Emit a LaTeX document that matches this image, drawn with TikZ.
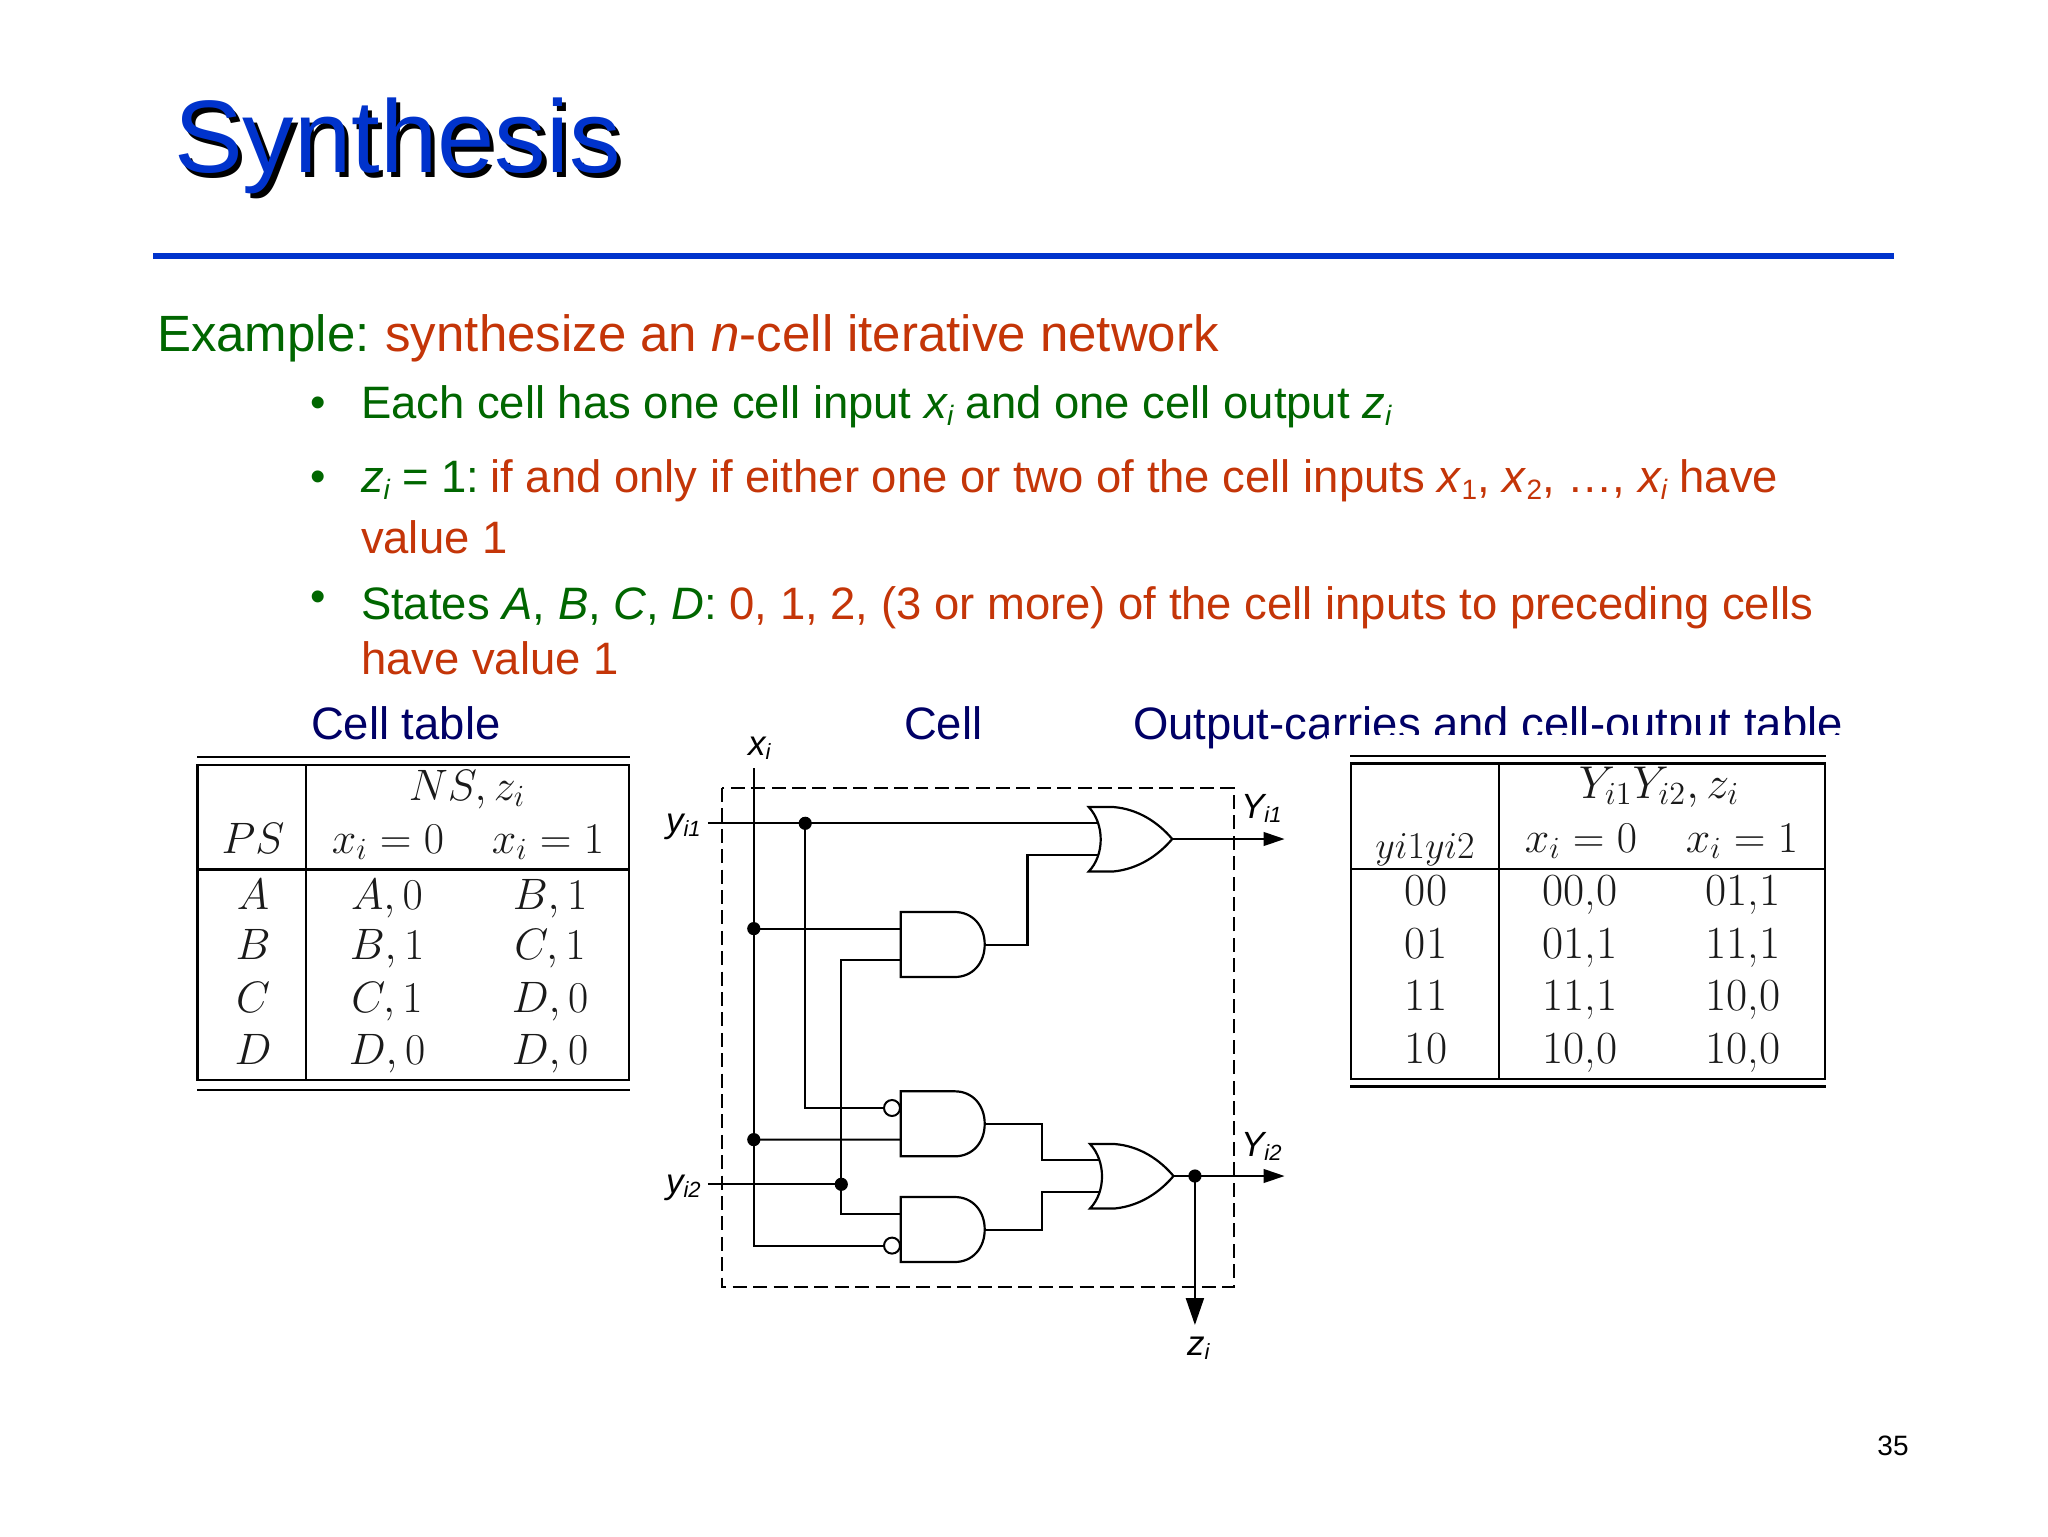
\documentclass[tikz,border=0pt]{standalone}
\usepackage{fix-cm}
\usepackage[no-math]{fontspec}
\usepackage{amsmath}
\newfontfamily\slidefont{Liberation Sans}
\usetikzlibrary{arrows.meta}
\definecolor{slideblue}{HTML}{0033CC}
\definecolor{slidegreen}{HTML}{006600}
\definecolor{slidered}{HTML}{C43508}
\definecolor{slidenavy}{HTML}{000066}
\definecolor{tabletext}{HTML}{1A1A1A}
\newcommand{\rd}[1]{\textcolor{slidered}{#1}}
\newcommand{\subl}[1]{\raisebox{-3.5pt}{\fontsize{14}{15}\selectfont #1}}
\newcommand{\subc}[1]{\raisebox{-2pt}{\fontsize{11}{12}\selectfont #1}}
\tikzset{
  txt/.style={anchor=base west,inner sep=0pt,outer sep=0pt,font=\slidefont\fontsize{22.72}{24}\selectfont,text=slidegreen},
  headtxt/.style={txt,font=\slidefont\fontsize{25.5}{27}\selectfont},
  captxt/.style={txt,text=slidenavy},
  bul/.style={anchor=base,inner sep=0pt,outer sep=0pt,font=\slidefont\fontsize{22}{24}\selectfont,text=slidegreen},
  titletxt/.style={anchor=base west,inner sep=0pt,outer sep=0pt,font=\slidefont\fontsize{51.5}{54}\selectfont},
  tabtxt/.style={anchor=base,inner sep=0pt,outer sep=0pt,font=\fontsize{22}{24}\selectfont,text=tabletext},
  tabtxtb/.style={tabtxt,font=\fontsize{23}{24}\selectfont},
  tabline/.style={line width=1.3pt,black},
  wire/.style={line width=1.1pt,black},
  gate/.style={line width=1.1pt,black},
  dotj/.style={circle,fill=black,inner sep=0pt,minimum size=6.6pt},
  bubble/.style={circle,draw=black,fill=white,line width=1pt,inner sep=0pt,minimum size=8pt},
  arrowr/.style={wire,-{Triangle[length=10.5pt,width=6.8pt]}},
  arrowd/.style={wire,-{Triangle[length=13.5pt,width=9pt]}},
  lab/.style={anchor=base west,inner sep=0pt,outer sep=0pt,font=\slidefont\itshape\fontsize{17.5}{18}\selectfont},
  andg/.pic={
    \draw[gate] (0,0) -- (54,0) .. controls (72,0) and (84,14) .. (84,32.5)
      .. controls (84,51) and (72,65) .. (54,65) -- (0,65) -- cycle;
    \coordinate (-in1) at (0,16.6);
    \coordinate (-in2) at (0,48.3);
    \coordinate (-out) at (84,32.6);
  },
  org/.pic={
    \draw[gate] (0,0) -- (24.5,0) .. controls (50,2) and (70,16) .. (83.5,32)
      .. controls (70,48) and (50,62) .. (24.5,64.5) -- (0,64.5)
      .. controls (16,48) and (16,17) .. (0,0) -- cycle;
    \coordinate (-in1) at (9.5,16.3);
    \coordinate (-in2) at (9.5,48);
    \coordinate (-out) at (83.5,32);
  },
}
\begin{document}
\begin{tikzpicture}[x=0.5pt,y=-0.5pt]
\useasboundingbox (0,0) rectangle (2048,1536);
% title
\node[titletxt,text=black] (titleshadow) at (178.5,177) {Synthesis};
\node[titletxt,text=slideblue] (title) at (174,172) {Synthesis};
\fill[slideblue] (153,253) rectangle (1894,259);
% body
\node[headtxt] (head) at (157,351) {Example:\hspace{-1.5pt} \rd{synthesize an \textit{n}-cell iterative network}};
\node[bul] (b1) at (318,417) {•};
\node[txt] (l1) at (361,418) {Each cell has one cell input \textit{x\subl{i}} and one cell output \textit{z\subl{i}}};
\node[bul] (b2) at (318,491) {•};
\node[txt] (l2) at (361,492) {\textit{z\subl{i}} = 1:\hspace{-3pt} \rd{if and only if either one or two of the cell inputs \textit{x}\subl{1}, \textit{x}\subl{2}, …, \textit{x\subl{i}} have}};
\node[txt,text=slidered] (l2b) at (361,553) {value 1};
\node[bul] (b3) at (318,611) {•};
\node[txt] (l3) at (361,619) {States \textit{A}, \textit{B}, \textit{C}, \textit{D}: \rd{0, 1, 2, (3 or more) of the cell inputs to preceding cells}};
\node[txt,text=slidered] (l3b) at (361,674) {have value 1};
% captions
\node[captxt] (c1) at (311,739.5) {Cell table};
\node[captxt] (c2) at (904,739.5) {Cell};
\node[captxt] (c3) at (1133,739.5) {Output-carries and cell-output table};
\fill[white] (1327,735) rectangle (1850,752);
% left table
\draw[tabline] (197,757) -- (629.5,757);
\draw[tabline] (197,1090) -- (629.5,1090);
\draw[tabline] (197.5,765) rectangle (629,1080);
\draw[tabline] (306,765) -- (306,1080);
\draw[tabline] (197.5,869.3) -- (629,869.3);
\node[tabtxt] (ns) at (467,800) {$NS, z_i$};
\node[tabtxt] (ps) at (253,853) {$PS$};
\node[tabtxt] (h0) at (388,853) {$x_i = 0$};
\node[tabtxt] (h1) at (548,853) {$x_i = 1$};
\node[tabtxt] (ra) at (253,909) {$A$};  \node[tabtxt] (ra0) at (387,909) {$A,0$};  \node[tabtxt] (ra1) at (550,909) {$B,1$};
\node[tabtxt] (rb) at (253,959) {$B$};  \node[tabtxt] (rb0) at (387,959) {$B,1$};  \node[tabtxt] (rb1) at (550,959) {$C,1$};
\node[tabtxt] (rc) at (253,1012) {$C$}; \node[tabtxt] (rc0) at (387,1012) {$C,1$}; \node[tabtxt] (rc1) at (550,1012) {$D,0$};
\node[tabtxt] (rd) at (253,1064) {$D$}; \node[tabtxt] (rd0) at (387,1064) {$D,0$}; \node[tabtxt] (rd1) at (550,1064) {$D,0$};
% right table
\draw[tabline] (1350,756) -- (1826,756);
\draw[tabline] (1350,1086.7) -- (1826,1086.7);
\draw[tabline] (1351,763.5) rectangle (1825,1079);
\draw[tabline] (1499,763.5) -- (1499,1079);
\draw[tabline] (1351,869) -- (1825,869);
\node[tabtxtb] (yy) at (1659,798) {$Y_{i1}Y_{i2}, z_i$};
\node[tabtxt,font=\fontsize{19}{20}\selectfont] (sy) at (1425,858) {$yi1yi2$};
\node[tabtxt] (g0) at (1581,852) {$x_i = 0$};
\node[tabtxt] (g1) at (1742,852) {$x_i = 1$};
\node[tabtxtb] (s00) at (1426,905) {00};  \node[tabtxtb] (s000) at (1580,905) {00,0};  \node[tabtxtb] (s001) at (1743,905) {01,1};
\node[tabtxtb] (s01) at (1426,958) {01};  \node[tabtxtb] (s010) at (1580,958) {01,1};  \node[tabtxtb] (s011) at (1743,958) {11,1};
\node[tabtxtb] (s11) at (1426,1010) {11}; \node[tabtxtb] (s110) at (1580,1010) {11,1}; \node[tabtxtb] (s111) at (1743,1010) {10,0};
\node[tabtxtb] (s10) at (1426,1063) {10}; \node[tabtxtb] (s100) at (1580,1063) {10,0}; \node[tabtxtb] (s101) at (1743,1063) {10,0};
% cell boundary
\draw[line width=1pt,black,dash pattern=on 7pt off 3.2pt] (721.7,788) rectangle (1233.8,1287);
% gates
\pic (or1) at (1088.7,807) {org};
\pic (or2) at (1090,1144) {org};
\pic (a1) at (900.7,912) {andg};
\pic (a2) at (900.7,1091.3) {andg};
\pic (a3) at (900.7,1197) {andg};
\node[bubble] (n2) at (892,1108) {};
\node[bubble] (n3) at (892,1245.6) {};
% terminals
\coordinate (xtop) at (753.8,768.3);
\coordinate (y1in) at (707.9,823.3);
\coordinate (y2in) at (707.9,1184.3);
\coordinate (y1out) at (1284.6,839);
\coordinate (y2out) at (1284.6,1176);
\coordinate (zout) at (1194.9,1325);
\coordinate (m1) at (1027.5,900);
\coordinate (m2) at (1041.8,1160);
\coordinate (m3) at (1041.8,1192);
% junctions
\node[dotj] (d1) at (805.2,823.3) {};
\node[dotj] (d2) at (841.3,1184.3) {};
\node[dotj] (d3) at (753.8,928.6) {};
\node[dotj] (d4) at (753.8,1139.6) {};
\node[dotj] (d5) at (1194.9,1176) {};
% wires
\draw[wire] (xtop) |- (n3.west);
\draw[wire] (y1in) -- (or1-in1);
\draw[wire] (d1.center) |- (n2.west);
\draw[wire] (d3.center) -- (a1-in1);
\draw[wire] (d4.center) -- (a2-in2);
\draw[wire] (y2in) -- (d2.center);
\draw[wire] (a1-in2) -| (d2.center) |- (a3-in1);
\draw[wire] (a1-out) -| (m1) |- (or1-in2);
\draw[wire] (a2-out) -| (m2) |- (or2-in1);
\draw[wire] (a3-out) -| (m3) |- (or2-in2);
\draw[arrowr] (or1-out) -- (y1out);
\draw[arrowr] (or2-out) -- (y2out);
\draw[arrowd] (d5.center) -- (zout);
% labels
\node[lab] (lx) at (748,755) {x\subc{i}};
\node[lab] (ly1) at (666,832) {y\subc{i1}};
\node[lab] (ly2) at (666,1193) {y\subc{i2}};
\node[lab] (lY1) at (1241,818) {Y\subc{i1}};
\node[lab] (lY2) at (1241,1156) {Y\subc{i2}};
\node[lab] (lz) at (1187,1355) {z\subc{i}};
\node[anchor=base,inner sep=0pt,font=\slidefont\fontsize{14}{15}\selectfont] (pg) at (1893,1455) {35};
\end{tikzpicture}
\end{document}
